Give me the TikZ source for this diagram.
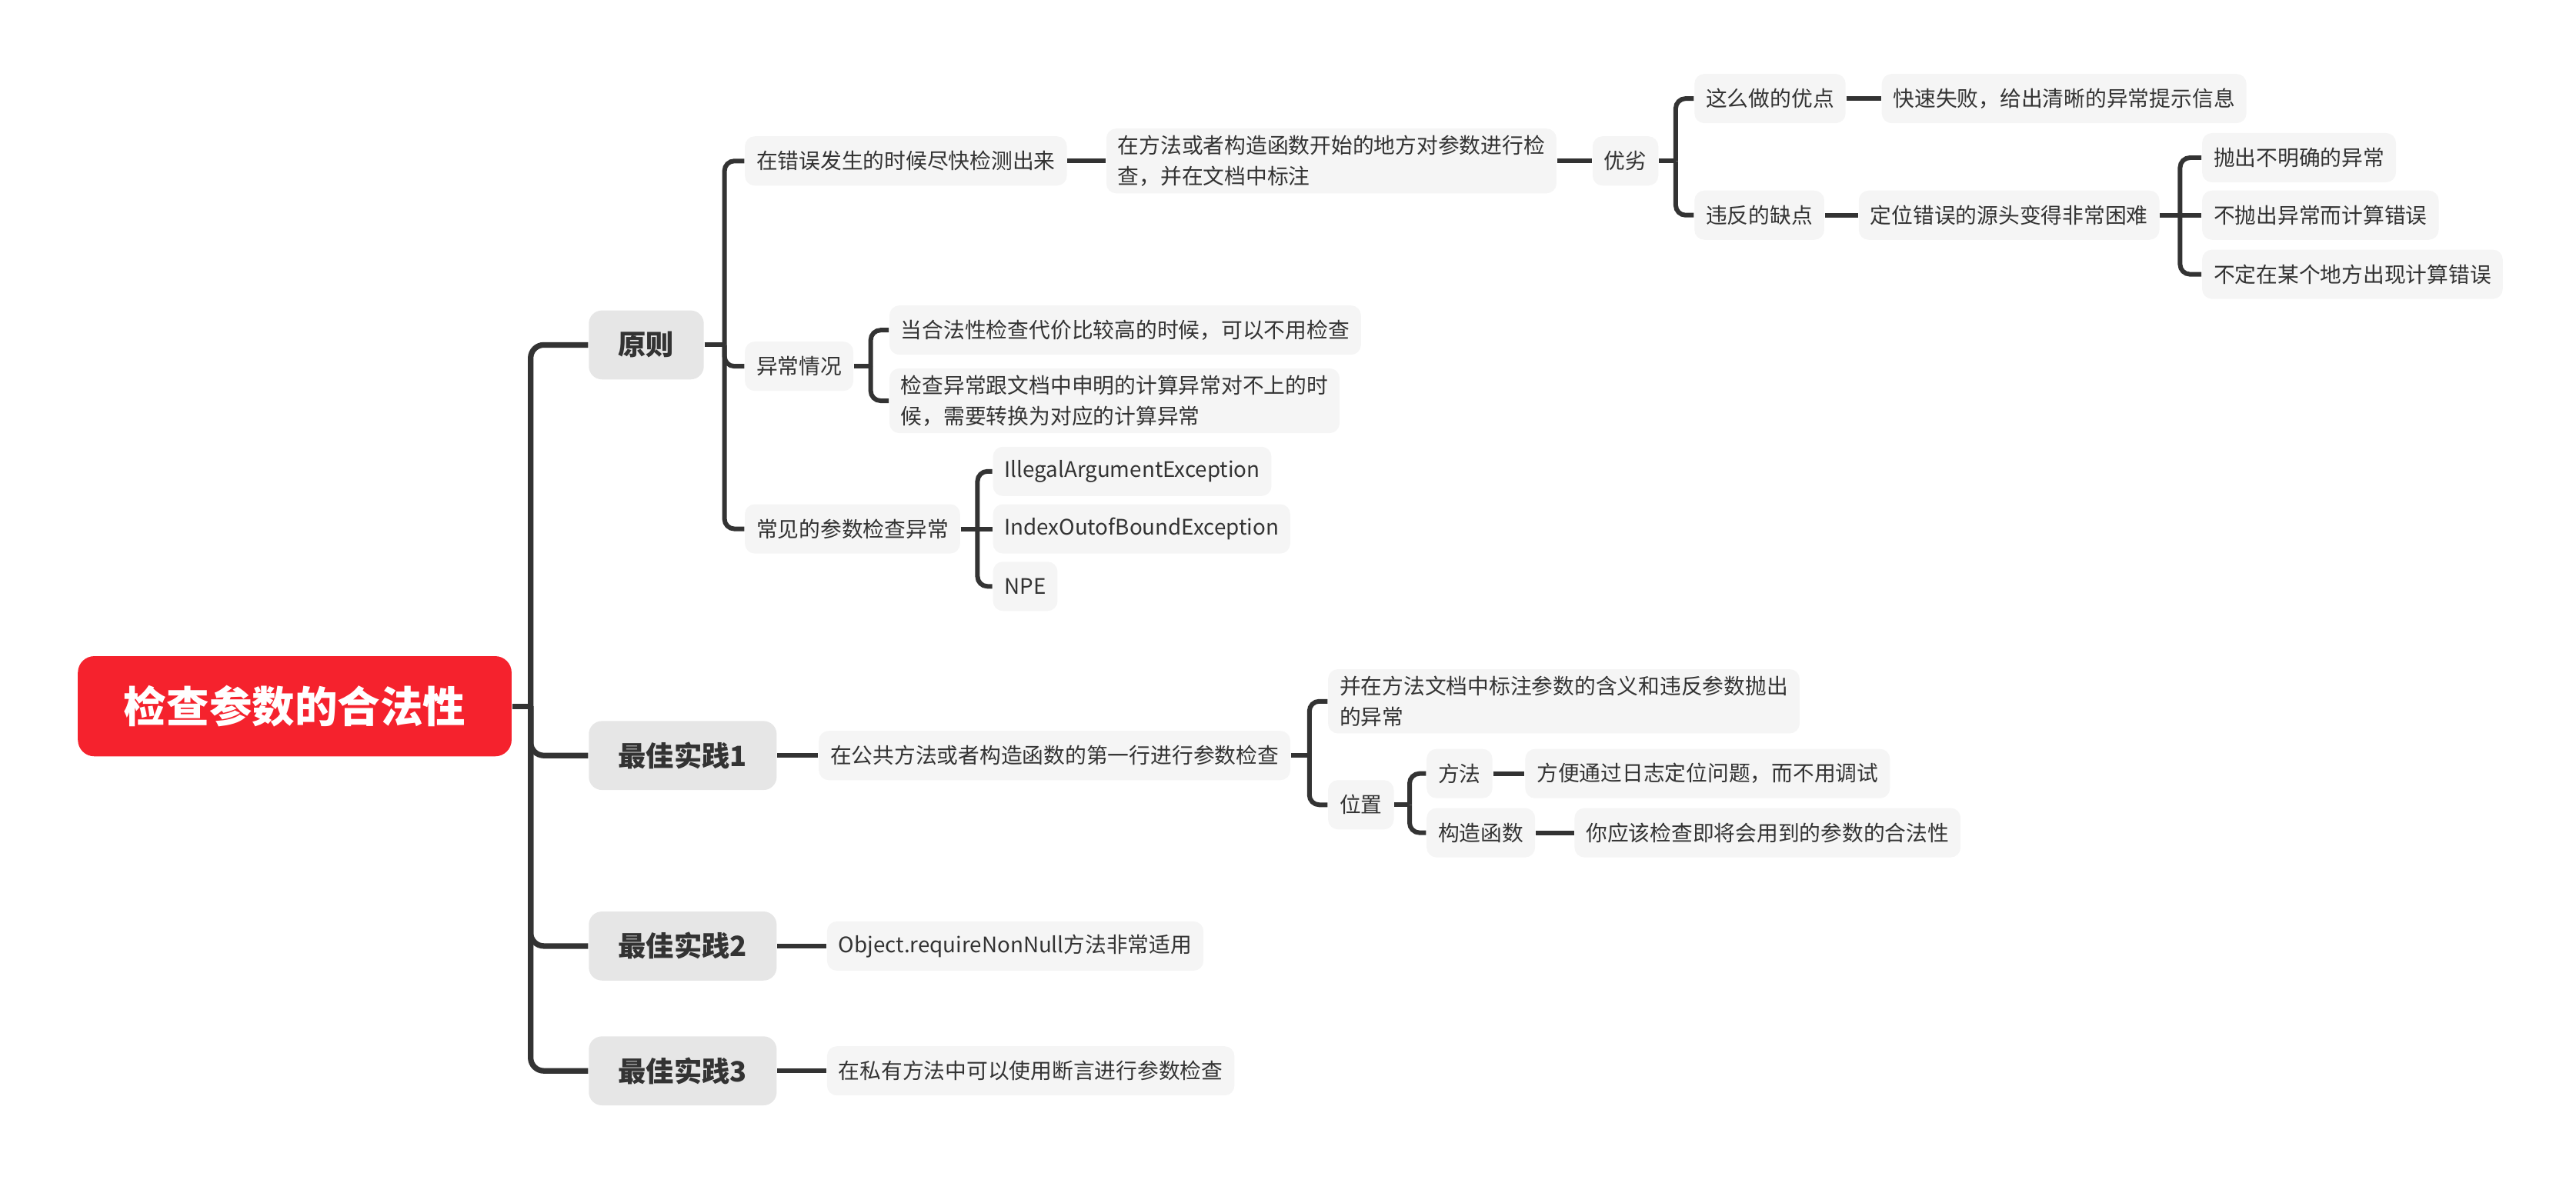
\documentclass[tikz,border=0pt]{standalone}
\usepackage{fontspec}
\setmainfont{Noto Sans CJK SC}
\definecolor{rootred}{HTML}{F5222D}
\definecolor{lonegray}{HTML}{E6E6E6}
\definecolor{leafgray}{HTML}{F5F5F5}
\definecolor{ink}{HTML}{333333}
\begin{document}
\begin{tikzpicture}[x=0.5pt,y=-0.5pt,
  rootbox/.style={fill=rootred, rounded corners=5pt, text=white, anchor=west,
    font=\fontsize{13}{15}\selectfont\bfseries, inner xsep=14pt, minimum height=30.5pt},
  lone/.style={fill=lonegray, rounded corners=4pt, text=ink, anchor=west,
    font=\fontsize{8.5}{10}\selectfont\bfseries, inner xsep=9pt, minimum height=21pt},
  leaf/.style={fill=leafgray, rounded corners=3pt, text=ink, anchor=west, align=left,
    font=\fontsize{6.5}{9.5}\selectfont, inner xsep=3.5pt, inner ysep=2pt, minimum height=15pt},
  mainline/.style={draw=ink, line width=1.7pt, rounded corners=4pt},
  subline/.style={draw=ink, line width=1.4pt, rounded corners=3pt}]
\useasboundingbox (0,0) rectangle (1568,720);
% root and level 1
\node[rootbox] (root) at (47,430) {检查参数的合法性};
\node[lone] (yz) at (358,210) {原则};
\node[lone] (b1) at (358,460) {最佳实践1};
\node[lone] (b2) at (358,576) {最佳实践2};
\node[lone] (b3) at (358,652) {最佳实践3};
% 原则 branch
\node[leaf] (a1) at (453,98) {在错误发生的时候尽快检测出来};
\node[leaf] (a2) at (453,223) {异常情况};
\node[leaf] (a3) at (453,322) {常见的参数检查异常};
\node[leaf] (c1) at (673,98) {在方法或者构造函数开始的地方对参数进行检\\查，并在文档中标注};
\node[leaf] (yl) at (969,98) {优劣};
\node[leaf] (yd) at (1031,60) {这么做的优点};
\node[leaf] (kssb) at (1145,60) {快速失败，给出清晰的异常提示信息};
\node[leaf] (qd) at (1031,131) {违反的缺点};
\node[leaf] (dw) at (1131,131) {定位错误的源头变得非常困难};
\node[leaf] (e1) at (1340,96) {抛出不明确的异常};
\node[leaf] (e2) at (1340,131) {不抛出异常而计算错误};
\node[leaf] (e3) at (1340,167) {不定在某个地方出现计算错误};
\node[leaf] (d1) at (541,201) {当合法性检查代价比较高的时候，可以不用检查};
\node[leaf] (d2) at (541,244) {检查异常跟文档中申明的计算异常对不上的时\\候，需要转换为对应的计算异常};
\node[leaf] (x1) at (604,287) {IllegalArgumentException};
\node[leaf] (x2) at (604,322) {IndexOutofBoundException};
\node[leaf] (x3) at (604,357) {NPE};
% best practice 1
\node[leaf] (p1) at (498,460) {在公共方法或者构造函数的第一行进行参数检查};
\node[leaf] (p2) at (808,427) {并在方法文档中标注参数的含义和违反参数抛出\\的异常};
\node[leaf] (wz) at (808,490) {位置};
\node[leaf] (ff) at (868,471) {方法};
\node[leaf] (ffd) at (928,471) {方便通过日志定位问题，而不用调试};
\node[leaf] (gz) at (868,507) {构造函数};
\node[leaf] (gzd) at (958,507) {你应该检查即将会用到的参数的合法性};
% best practice 2, 3
\node[leaf] (o1) at (503,576) {Object.requireNonNull方法非常适用};
\node[leaf] (s1) at (503,652) {在私有方法中可以使用断言进行参数检查};
% trunk coordinates
\coordinate (t0) at (323,430);
\coordinate (t1) at (441,210);
\coordinate (t2) at (1020,98);
\coordinate (t3) at (1327,131);
\coordinate (t4) at (530,223);
\coordinate (t5) at (595,322);
\coordinate (t6) at (797,460);
\coordinate (t7) at (858,490);
% main connectors
\draw[mainline] (root.east) -- (t0);
\draw[mainline] (t0) |- (yz.west);
\draw[mainline] (t0) |- (b1.west);
\draw[mainline] (t0) |- (b2.west);
\draw[mainline] (t0) |- (b3.west);
% 原则
\draw[subline] (yz.east) -- (t1);
\draw[subline] (t1) |- (a1.west);
\draw[subline] (t1) |- (a2.west);
\draw[subline] (t1) |- (a3.west);
\draw[subline] (a1.east) -- (c1.west);
\draw[subline] (c1.east) -- (yl.west);
\draw[subline] (yl.east) -- (t2);
\draw[subline] (t2) |- (yd.west);
\draw[subline] (t2) |- (qd.west);
\draw[subline] (yd.east) -- (kssb.west);
\draw[subline] (qd.east) -- (dw.west);
\draw[subline] (dw.east) -- (t3);
\draw[subline] (t3) |- (e1.west);
\draw[subline] (t3) -- (e2.west);
\draw[subline] (t3) |- (e3.west);
\draw[subline] (a2.east) -- (t4);
\draw[subline] (t4) |- (d1.west);
\draw[subline] (t4) |- (d2.west);
\draw[subline] (a3.east) -- (t5);
\draw[subline] (t5) |- (x1.west);
\draw[subline] (t5) -- (x2.west);
\draw[subline] (t5) |- (x3.west);
% best practice 1
\draw[subline] (b1.east) -- (p1.west);
\draw[subline] (p1.east) -- (t6);
\draw[subline] (t6) |- (p2.west);
\draw[subline] (t6) |- (wz.west);
\draw[subline] (wz.east) -- (t7);
\draw[subline] (t7) |- (ff.west);
\draw[subline] (t7) |- (gz.west);
\draw[subline] (ff.east) -- (ffd.west);
\draw[subline] (gz.east) -- (gzd.west);
% best practice 2, 3
\draw[subline] (b2.east) -- (o1.west);
\draw[subline] (b3.east) -- (s1.west);
\end{tikzpicture}
\end{document}
